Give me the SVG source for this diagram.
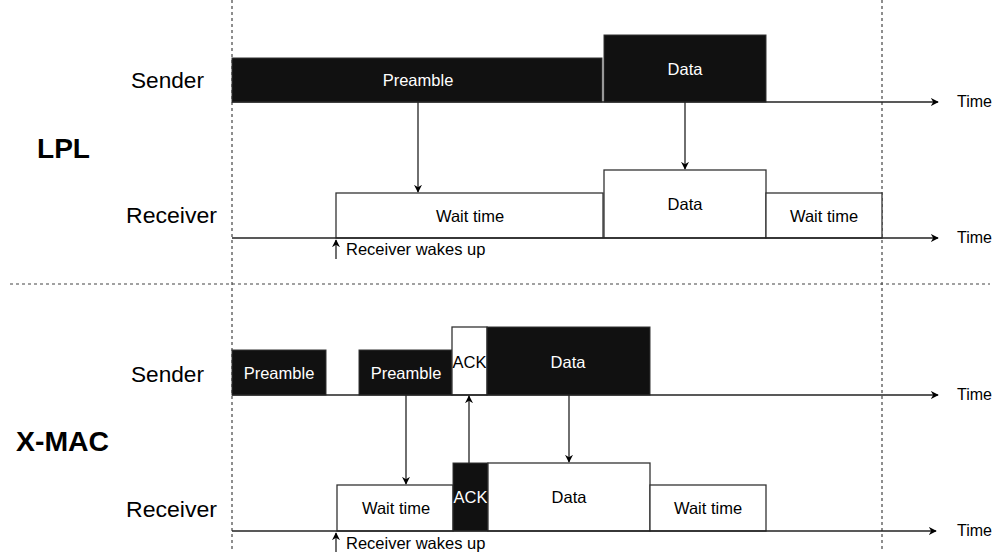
<svg xmlns="http://www.w3.org/2000/svg" width="994" height="552" viewBox="0 0 994 552">
<defs>
<marker id="ah" viewBox="0 0 10 10" refX="9" refY="5" markerWidth="8" markerHeight="8" markerUnits="userSpaceOnUse" orient="auto"><path d="M0,0 L10,5 L0,10 L3,5 z" fill="#000"/></marker>
</defs>
<style>
text{font-family:"Liberation Sans",Arial,sans-serif;fill:#000}
.lbl{font-size:22.5px}
.big{font-size:28px;font-weight:bold}
.sm{font-size:16.5px}
.tm{font-size:16px}
.in{font-size:16.5px;text-anchor:middle}
.wt{fill:#fff}
.blk{fill:#111;stroke:#333;stroke-width:1}
.wht{fill:#fff;stroke:#333;stroke-width:1.3}
.arr{stroke:#222;stroke-width:1.3;fill:none;marker-end:url(#ah)}
.dash{stroke:#444;stroke-width:1.2;stroke-dasharray:3,3;fill:none}
</style>
<rect width="994" height="552" fill="#fff"/>
<g id="guides">
<line class="dash" x1="232" y1="0" x2="232" y2="552"/>
<line class="dash" x1="882" y1="0" x2="882" y2="552"/>
<line class="dash" x1="10" y1="284" x2="990" y2="284"/>
</g>
<g id="labels">
<text class="lbl" x="131" y="88" textLength="73" lengthAdjust="spacingAndGlyphs">Sender</text>
<text class="big" x="37" y="158" textLength="53" lengthAdjust="spacingAndGlyphs">LPL</text>
<text class="lbl" x="126" y="223" textLength="91" lengthAdjust="spacingAndGlyphs">Receiver</text>
<text class="lbl" x="131" y="382" textLength="73" lengthAdjust="spacingAndGlyphs">Sender</text>
<text class="big" x="16" y="451" textLength="93" lengthAdjust="spacingAndGlyphs">X-MAC</text>
<text class="lbl" x="126" y="517" textLength="91" lengthAdjust="spacingAndGlyphs">Receiver</text>
</g>
<g id="lpl-sender-preamble"><rect class="blk" x="232" y="58" width="370" height="44"/><text class="in wt" x="418" y="86">Preamble</text></g>
<g id="lpl-sender-data"><rect class="blk" x="604" y="35" width="162" height="67"/><text class="in wt" x="685" y="75">Data</text></g>
<g id="lpl-recv-wait"><rect class="wht" x="336" y="193" width="267" height="45"/><text class="in" x="470" y="222">Wait time</text></g>
<g id="lpl-recv-data"><rect class="wht" x="604" y="170" width="162" height="68"/><text class="in" x="685" y="210">Data</text></g>
<g id="lpl-recv-wait2"><rect class="wht" x="766" y="193" width="116" height="45"/><text class="in" x="824" y="222">Wait time</text></g>
<g id="xmac-sender-pre1"><rect class="blk" x="232" y="350" width="94" height="45"/><text class="in wt" x="279" y="379">Preamble</text></g>
<g id="xmac-sender-pre2"><rect class="blk" x="359" y="350" width="93" height="45"/><text class="in wt" x="406" y="379">Preamble</text></g>
<g id="xmac-sender-ack"><rect class="wht" x="452" y="327" width="35" height="68"/><text class="in" x="469.5" y="368">ACK</text></g>
<g id="xmac-sender-data"><rect class="blk" x="487" y="327" width="163" height="68"/><text class="in wt" x="568" y="368">Data</text></g>
<g id="xmac-recv-wait"><rect class="wht" x="337" y="485" width="116" height="46"/><text class="in" x="396" y="514">Wait time</text></g>
<g id="xmac-recv-ack"><rect class="blk" x="453" y="463" width="35" height="68"/><text class="in wt" x="470.5" y="503">ACK</text></g>
<g id="xmac-recv-data"><rect class="wht" x="488" y="463" width="162" height="68"/><text class="in" x="569" y="503">Data</text></g>
<g id="xmac-recv-wait2"><rect class="wht" x="650" y="485" width="116" height="46"/><text class="in" x="708" y="514">Wait time</text></g>
<g id="connectors">
<line class="arr" x1="232" y1="102" x2="938" y2="102"/>
<line class="arr" x1="232" y1="238" x2="938" y2="238"/>
<line class="arr" x1="232" y1="395" x2="938" y2="395"/>
<line class="arr" x1="232" y1="531" x2="936" y2="531"/>
<line class="arr" x1="418" y1="102" x2="418" y2="192"/>
<line class="arr" x1="685" y1="102" x2="685" y2="169"/>
<line class="arr" x1="336" y1="259" x2="336" y2="240"/>
<line class="arr" x1="406" y1="395" x2="406" y2="484"/>
<line class="arr" x1="469" y1="463" x2="469" y2="396"/>
<line class="arr" x1="569" y1="395" x2="569" y2="462"/>
<line class="arr" x1="336" y1="552" x2="336" y2="533"/>
</g>
<g id="axis-labels">
<text class="tm" x="957" y="107">Time</text>
<text class="tm" x="957" y="243">Time</text>
<text class="tm" x="957" y="400">Time</text>
<text class="tm" x="957" y="536">Time</text>
<text class="sm" x="346" y="255">Receiver wakes up</text>
<text class="sm" x="346" y="549">Receiver wakes up</text>
</g>
</svg>
